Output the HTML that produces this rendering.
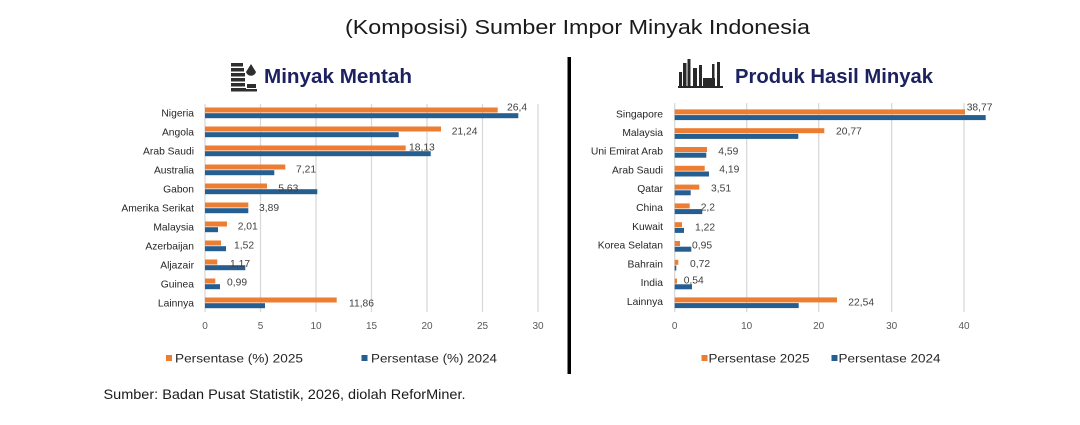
<!DOCTYPE html>
<html><head><meta charset="utf-8"><style>
html,body{margin:0;padding:0;background:#fff;}
svg{display:block;}
text{font-family:"Liberation Sans",Arial,sans-serif;}
</style></head><body>
<svg width="1080" height="425" viewBox="0 0 1080 425" xmlns="http://www.w3.org/2000/svg">
<rect width="1080" height="425" fill="#fff"/>
<!-- Main title -->
<text x="345" y="34" font-size="20.5" fill="#1a1a1a" textLength="465" lengthAdjust="spacingAndGlyphs">(Komposisi) Sumber Impor Minyak Indonesia</text>

<!-- Divider -->
<rect x="567.5" y="57" width="3.5" height="317" fill="#000"/>

<!-- Left icon -->
<g fill="#2e2e2e">
<rect x="231" y="63" width="12" height="3.5"/>
<rect x="231" y="68" width="13" height="3.5"/>
<rect x="231" y="73" width="14" height="3.5"/>
<rect x="231" y="78" width="14" height="3.5"/>
<rect x="231" y="83" width="14" height="3.5"/>
<rect x="231" y="88" width="15" height="3.5"/>
<path d="M251 64 L246 72 A5.2 5.2 0 0 0 256 72 Z"/>
<rect x="247" y="84" width="9" height="4"/>
<rect x="246" y="89" width="11" height="2.5"/>
</g>
<text x="264" y="83" font-size="20.5" font-weight="bold" fill="#1c2160" textLength="148" lengthAdjust="spacingAndGlyphs">Minyak Mentah</text>

<!-- Right icon -->
<g fill="#2a2a2a">
<rect x="679" y="72" width="3" height="15"/>
<rect x="683" y="63" width="3.5" height="24"/>
<rect x="687.5" y="59" width="3" height="28"/>
<rect x="693" y="68" width="4" height="19"/>
<rect x="699" y="65" width="3" height="22"/>
<rect x="703" y="78" width="12" height="9"/>
<rect x="712" y="64" width="2.5" height="16"/>
<rect x="717" y="62" width="3" height="25"/>
<rect x="678" y="86" width="45" height="2"/>
</g>
<text x="735" y="83" font-size="20.5" font-weight="bold" fill="#1c2160" textLength="198" lengthAdjust="spacingAndGlyphs">Produk Hasil Minyak</text>

<!-- LEFT CHART -->
<g stroke="#d9d9d9" stroke-width="1.3">
<line x1="205" y1="104" x2="205" y2="312"/>
<line x1="260.5" y1="104" x2="260.5" y2="312"/>
<line x1="316" y1="104" x2="316" y2="312"/>
<line x1="371.5" y1="104" x2="371.5" y2="312"/>
<line x1="427" y1="104" x2="427" y2="312"/>
<line x1="482.5" y1="104" x2="482.5" y2="312"/>
<line x1="538" y1="104" x2="538" y2="312"/>
</g>
<g font-size="10" fill="#595959" text-anchor="middle">
<text x="205" y="329">0</text>
<text x="260.5" y="329">5</text>
<text x="316" y="329">10</text>
<text x="371.5" y="329">15</text>
<text x="427" y="329">20</text>
<text x="482.5" y="329">25</text>
<text x="538" y="329">30</text>
</g>
<g font-size="10.3" fill="#262626" text-anchor="end">
<text x="194" y="116.5">Nigeria</text>
<text x="194" y="135.5">Angola</text>
<text x="194" y="154.5">Arab Saudi</text>
<text x="194" y="173.5">Australia</text>
<text x="194" y="192.5">Gabon</text>
<text x="194" y="211.5">Amerika Serikat</text>
<text x="194" y="230.5">Malaysia</text>
<text x="194" y="249.5">Azerbaijan</text>
<text x="194" y="268.5">Aljazair</text>
<text x="194" y="287.5">Guinea</text>
<text x="194" y="306.5">Lainnya</text>
</g>
<g fill="#ed7d31">
<rect x="205" y="107.5" width="292.7" height="5"/>
<rect x="205" y="126.5" width="236" height="5"/>
<rect x="205" y="145.5" width="200.7" height="5"/>
<rect x="205" y="164.5" width="80.3" height="5"/>
<rect x="205" y="183.5" width="62" height="5"/>
<rect x="205" y="202.5" width="43.3" height="5"/>
<rect x="205" y="221.5" width="22" height="5"/>
<rect x="205" y="240.5" width="16" height="5"/>
<rect x="205" y="259.5" width="12.3" height="5"/>
<rect x="205" y="278.5" width="10.3" height="5"/>
<rect x="205" y="297.5" width="131.7" height="5"/>
</g>
<g fill="#255e91">
<rect x="205" y="113.2" width="313.3" height="5"/>
<rect x="205" y="132.2" width="193.7" height="5"/>
<rect x="205" y="151.2" width="225.7" height="5"/>
<rect x="205" y="170.2" width="69.3" height="5"/>
<rect x="205" y="189.2" width="112.3" height="5"/>
<rect x="205" y="208.2" width="43.3" height="5"/>
<rect x="205" y="227.2" width="13" height="5"/>
<rect x="205" y="246.2" width="21" height="5"/>
<rect x="205" y="265.2" width="40.3" height="5"/>
<rect x="205" y="284.2" width="15" height="5"/>
<rect x="205" y="303.2" width="60" height="5"/>
</g>
<g font-size="10.3" fill="#404040">
<text x="507" y="110.5">26,4</text>
<text x="451.7" y="134.7">21,24</text>
<text x="409" y="150.7">18,13</text>
<text x="296" y="172.7">7,21</text>
<text x="278.3" y="191.7">5,63</text>
<text x="259" y="211">3,89</text>
<text x="237.7" y="229.4">2,01</text>
<text x="234" y="248.7">1,52</text>
<text x="230" y="267">1,17</text>
<text x="227" y="285.4">0,99</text>
<text x="349" y="306.4">11,86</text>
</g>
<!-- left legend -->
<rect x="166" y="355" width="6" height="6" fill="#ed7d31"/>
<text x="175" y="362.5" font-size="12.3" fill="#262626" textLength="128" lengthAdjust="spacingAndGlyphs">Persentase (%) 2025</text>
<rect x="361.5" y="355" width="6" height="6" fill="#255e91"/>
<text x="371" y="362.5" font-size="12.3" fill="#262626" textLength="126" lengthAdjust="spacingAndGlyphs">Persentase (%) 2024</text>

<!-- RIGHT CHART -->
<g stroke="#d9d9d9" stroke-width="1.3">
<line x1="674.7" y1="103" x2="674.7" y2="312"/>
<line x1="746.7" y1="103" x2="746.7" y2="312"/>
<line x1="818.7" y1="103" x2="818.7" y2="312"/>
<line x1="891.7" y1="103" x2="891.7" y2="312"/>
<line x1="964" y1="103" x2="964" y2="312"/>
</g>
<g font-size="10" fill="#595959" text-anchor="middle">
<text x="674.7" y="329">0</text>
<text x="746.7" y="329">10</text>
<text x="818.7" y="329">20</text>
<text x="891.7" y="329">30</text>
<text x="964" y="329">40</text>
</g>
<g font-size="10.3" fill="#262626" text-anchor="end">
<text x="663" y="117.5">Singapore</text>
<text x="663" y="135.8">Malaysia</text>
<text x="663" y="154.6">Uni Emirat Arab</text>
<text x="663" y="173.4">Arab Saudi</text>
<text x="663" y="192.2">Qatar</text>
<text x="663" y="211">China</text>
<text x="663" y="229.8">Kuwait</text>
<text x="663" y="248.6">Korea Selatan</text>
<text x="663" y="267.4">Bahrain</text>
<text x="663" y="286.2">India</text>
<text x="663" y="305">Lainnya</text>
</g>
<g fill="#ed7d31">
<rect x="674.7" y="109.4" width="290.3" height="5"/>
<rect x="674.7" y="128.2" width="149.6" height="5"/>
<rect x="674.7" y="147" width="32.3" height="5"/>
<rect x="674.7" y="165.8" width="30" height="5"/>
<rect x="674.7" y="184.6" width="24.6" height="5"/>
<rect x="674.7" y="203.4" width="15" height="5"/>
<rect x="674.7" y="222.2" width="7.3" height="5"/>
<rect x="674.7" y="241" width="5.3" height="5"/>
<rect x="674.7" y="259.8" width="3.6" height="5"/>
<rect x="674.7" y="278.6" width="2.3" height="5"/>
<rect x="674.7" y="297.4" width="162.3" height="5"/>
</g>
<g fill="#255e91">
<rect x="674.7" y="115.1" width="311" height="5"/>
<rect x="674.7" y="133.9" width="123.6" height="5"/>
<rect x="674.7" y="152.7" width="31.6" height="5"/>
<rect x="674.7" y="171.5" width="34.3" height="5"/>
<rect x="674.7" y="190.3" width="16" height="5"/>
<rect x="674.7" y="209.1" width="27.6" height="5"/>
<rect x="674.7" y="227.9" width="9.3" height="5"/>
<rect x="674.7" y="246.7" width="16.6" height="5"/>
<rect x="674.7" y="265.5" width="1.6" height="5"/>
<rect x="674.7" y="284.3" width="17.3" height="5"/>
<rect x="674.7" y="303.1" width="124" height="5"/>
</g>
<g font-size="10.3" fill="#404040">
<text x="966.7" y="110.5">38,77</text>
<text x="836" y="134.7">20,77</text>
<text x="718.3" y="154.4">4,59</text>
<text x="719.3" y="172.7">4,19</text>
<text x="711" y="191.7">3,51</text>
<text x="700.7" y="210.7">2,2</text>
<text x="695" y="230.4">1,22</text>
<text x="692" y="248.7">0,95</text>
<text x="690" y="267">0,72</text>
<text x="683.7" y="283.7">0,54</text>
<text x="848.3" y="305.4">22,54</text>
</g>
<!-- right legend -->
<rect x="701.5" y="355" width="6" height="6" fill="#ed7d31"/>
<text x="708.5" y="362.5" font-size="12.3" fill="#262626" textLength="101" lengthAdjust="spacingAndGlyphs">Persentase 2025</text>
<rect x="831.5" y="355" width="6" height="6" fill="#255e91"/>
<text x="838.5" y="362.5" font-size="12.3" fill="#262626" textLength="102" lengthAdjust="spacingAndGlyphs">Persentase 2024</text>

<!-- Source -->
<text x="103.5" y="399" font-size="14" fill="#1a1a1a" textLength="362" lengthAdjust="spacingAndGlyphs">Sumber: Badan Pusat Statistik, 2026, diolah ReforMiner.</text>
</svg>
</body></html>
